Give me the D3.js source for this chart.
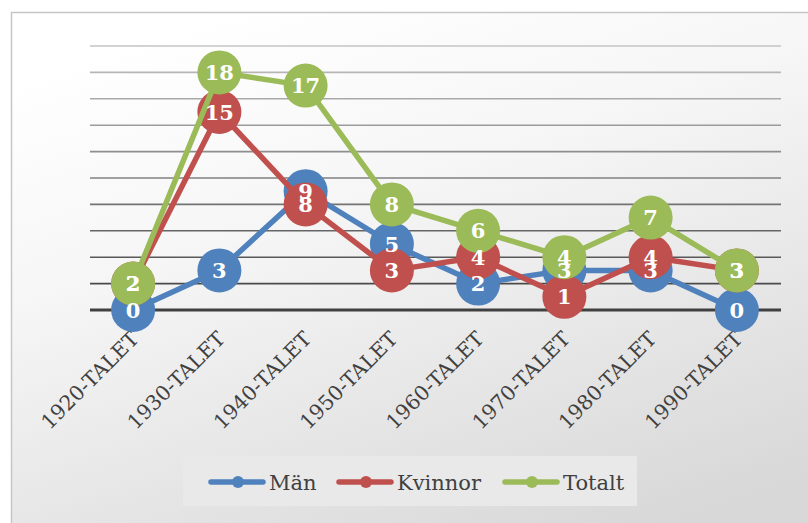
<!DOCTYPE html>
<meta charset="utf-8" />
<script src="https://d3js.org/d3.v7.min.js"></script>
<style>
  body { margin: 0; background: #fff; }
  text { font-family: "DejaVu Serif", serif; }
</style>
<div id="chart"></div>
<script>
  // data
  var decades = ["1920-TALET", "1930-TALET", "1940-TALET", "1950-TALET",
                 "1960-TALET", "1970-TALET", "1980-TALET", "1990-TALET"];
  var man = [0, 3, 9, 5, 2, 3, 3, 0];
  var kvinnor = [2, 15, 8, 3, 4, 1, 4, 3];
  var totalt = [2, 18, 17, 8, 6, 4, 7, 3];
  var seriesNames = ["Män", "Kvinnor", "Totalt"];
  var seriesColors = ["#4f81bd", "#c0504d", "#9bbb59"];
  var yTicks = [0, 2, 4, 6, 8, 10, 12, 14, 16, 18, 20];

  var W = 808, H = 523;
  var svg = d3.select("#chart").append("svg").attr("width", W).attr("height", H);

  var defs = svg.append("defs");
  var grad = defs.append("linearGradient").attr("id", "bg")
    .attr("x1", "0.25").attr("y1", "0").attr("x2", "0.75").attr("y2", "1");
  grad.append("stop").attr("offset", "0%").attr("stop-color", "#ffffff");
  grad.append("stop").attr("offset", "35%").attr("stop-color", "#f6f6f6");
  grad.append("stop").attr("offset", "100%").attr("stop-color", "#d8d8d8");

  svg.append("rect").attr("x", 11.5).attr("y", 12.5)
    .attr("width", W).attr("height", H)
    .attr("fill", "url(#bg)").attr("stroke", "#c6c6c6").attr("stroke-width", 1.5);

  var x = d3.scaleBand().domain(decades).range([90, 780]);
  var y = d3.scaleLinear().domain([0, 20]).range([310, 46]);
  var cx = function (d) { return x(d) + x.bandwidth() / 2; };

  // gridlines, lighter at the top, darker toward the bottom
  var gridColor = d3.scaleLinear().domain([20, 2]).range(["#c4c4c4", "#4a4a4a"]);
  svg.append("g").selectAll("line").data(yTicks.filter(function (t) { return t > 0; }))
    .enter().append("line")
    .attr("x1", 90).attr("x2", 781)
    .attr("y1", function (d) { return y(d); }).attr("y2", function (d) { return y(d); })
    .attr("stroke", function (d) { return gridColor(d); })
    .attr("stroke-width", 1.6);
  svg.append("line").attr("x1", 90).attr("x2", 781)
    .attr("y1", y(0)).attr("y2", y(0))
    .attr("stroke", "#404040").attr("stroke-width", 3);

  // category labels
  svg.append("g").selectAll("text").data(decades).enter().append("text")
    .attr("transform", function (d) { return "translate(" + (cx(d) + 7) + "," + 340 + ") rotate(-45)"; })
    .attr("text-anchor", "end")
    .attr("fill", "#404040")
    .attr("font-size", 20.5)
    .text(function (d) { return d; });

  var allSeries = [man, kvinnor, totalt];
  var line = d3.line()
    .x(function (d, i) { return cx(decades[i]); })
    .y(function (d) { return y(d); });

  allSeries.forEach(function (vals, s) {
    var g = svg.append("g");
    g.append("path").datum(vals).attr("d", line)
      .attr("fill", "none").attr("stroke", seriesColors[s])
      .attr("stroke-width", 5.5).attr("stroke-linejoin", "round");
    g.selectAll("circle").data(vals).enter().append("circle")
      .attr("cx", function (d, i) { return cx(decades[i]); })
      .attr("cy", function (d) { return y(d); })
      .attr("r", 22)
      .attr("fill", seriesColors[s]);
  });

  // data labels on top
  allSeries.forEach(function (vals, s) {
    svg.append("g").selectAll("text").data(vals).enter().append("text")
      .attr("x", function (d, i) { return cx(decades[i]); })
      .attr("y", function (d) { return y(d) + 7.5; })
      .attr("text-anchor", "middle")
      .attr("fill", "#fff").attr("font-weight", "bold").attr("font-size", 21)
      .text(function (d) { return d; });
  });

  // legend
  var lg = svg.append("g");
  lg.append("rect").attr("x", 183).attr("y", 456).attr("width", 454).attr("height", 50)
    .attr("fill", "#e9e9e9");
  var legX = [209, 337, 503];
  seriesNames.forEach(function (n, i) {
    var item = lg.append("g").attr("transform", "translate(" + legX[i] + ",482)");
    item.append("line").attr("x1", 2).attr("x2", 54).attr("y1", 0).attr("y2", 0)
      .attr("stroke", seriesColors[i]).attr("stroke-width", 5.5).attr("stroke-linecap", "round");
    item.append("circle").attr("cx", 29).attr("cy", 0).attr("r", 6).attr("fill", seriesColors[i]);
    item.append("text").attr("x", 60).attr("y", 8)
      .attr("fill", "#404040").attr("font-size", 21).text(n);
  });
</script>
